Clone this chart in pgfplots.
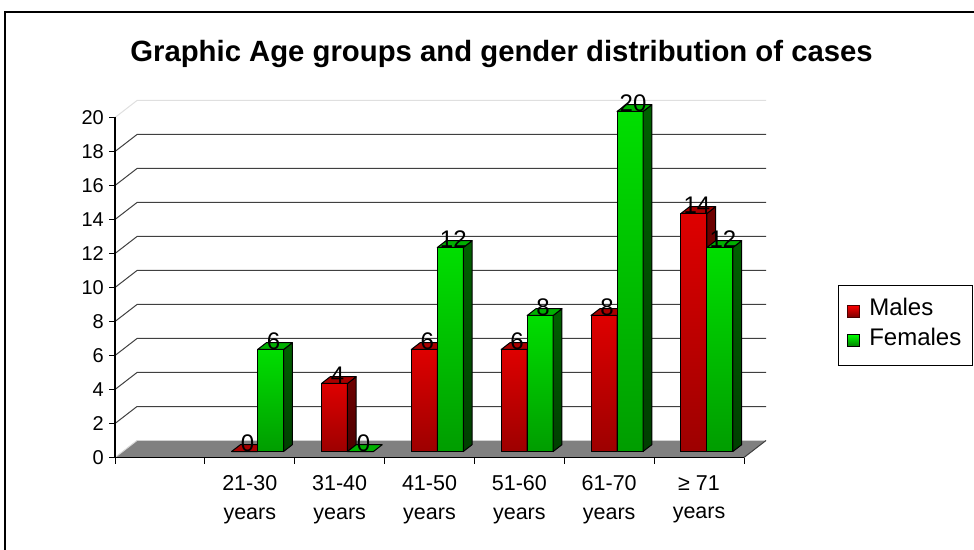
\documentclass[border=0pt]{standalone}
\usepackage{fontspec}
\setmainfont{Liberation Sans}
\usepackage{pgfplots}
\usepackage{pgfplotstable}
\pgfplotsset{compat=1.18}
\definecolor{rtop}{HTML}{FF0000}
\definecolor{rbot}{HTML}{7C0000}
\definecolor{rsidet}{HTML}{800000}
\definecolor{rsideb}{HTML}{3C0000}
\definecolor{rlid}{HTML}{A80000}
\definecolor{gtop}{HTML}{00FF00}
\definecolor{gbot}{HTML}{007C00}
\definecolor{gsidet}{HTML}{007000}
\definecolor{gsideb}{HTML}{002E00}
\definecolor{glid}{HTML}{00B000}
\definecolor{gridc}{HTML}{404040}
\definecolor{floorc}{HTML}{808080}

\pgfdeclareverticalshading{frontred}{100bp}{color(0bp)=(rbot); color(100bp)=(rtop)}
\pgfdeclareverticalshading{frontgreen}{100bp}{color(0bp)=(gbot); color(100bp)=(gtop)}
\pgfdeclareverticalshading{sidered}{100bp}{color(0bp)=(rsideb); color(100bp)=(rsidet)}
\pgfdeclareverticalshading{sidegreen}{100bp}{color(0bp)=(gsideb); color(100bp)=(gsidet)}

\pgfplotstableread{
x   males females
1.5 0     6
2.5 4     0
3.5 6     12
4.5 6     8
5.5 8     20
6.5 14    12
}\agedata

% one 3D bar: front face from x=#1 to x=#1+26pt, height \rawy units (17pt each),
% depth (8.8pt,6.8pt); the mark sits at the top centre of the pair of bars
\newcommand\threedbar[4]{%
  \pgfmathsetlengthmacro\hh{\rawy*17pt}%
  \pgfsetlinewidth{1pt}\pgfsetstrokecolor{black}\pgfsetroundjoin
  \ifdim\hh>0.5pt
    \pgfpathrectanglecorners{\pgfpoint{#1}{0pt-\hh}}{\pgfpoint{#1+26pt}{0pt}}%
    \pgfshadepath{#2}{0}\pgfusepath{discard}%
    \pgfpathrectanglecorners{\pgfpoint{#1}{0pt-\hh}}{\pgfpoint{#1+26pt}{0pt}}%
    \pgfusepath{stroke}%
    \pgfpathmoveto{\pgfpoint{#1+26pt}{0pt}}%
    \pgfpathlineto{\pgfpoint{#1+34.8pt}{6.8pt}}%
    \pgfpathlineto{\pgfpoint{#1+34.8pt}{6.8pt-\hh}}%
    \pgfpathlineto{\pgfpoint{#1+26pt}{0pt-\hh}}%
    \pgfpathclose
    \pgfshadepath{#3}{0}\pgfusepath{discard}%
    \pgfpathmoveto{\pgfpoint{#1+26pt}{0pt}}%
    \pgfpathlineto{\pgfpoint{#1+34.8pt}{6.8pt}}%
    \pgfpathlineto{\pgfpoint{#1+34.8pt}{6.8pt-\hh}}%
    \pgfpathlineto{\pgfpoint{#1+26pt}{0pt-\hh}}%
    \pgfpathclose
    \pgfusepath{stroke}%
  \fi
  \pgfpathmoveto{\pgfpoint{#1}{0pt}}%
  \pgfpathlineto{\pgfpoint{#1+26pt}{0pt}}%
  \pgfpathlineto{\pgfpoint{#1+34.8pt}{6.8pt}}%
  \pgfpathlineto{\pgfpoint{#1+8.8pt}{6.8pt}}%
  \pgfpathclose
  \pgfsetfillcolor{#4}\pgfusepath{fill,stroke}%
}
\pgfdeclareplotmark{malebox}{\threedbar{-26pt}{frontred}{sidered}{rlid}}
\pgfdeclareplotmark{femalebox}{\threedbar{0pt}{frontgreen}{sidegreen}{glid}}

\begin{document}
\begin{tikzpicture}
\useasboundingbox (0,0) rectangle (974pt,549pt);
% ---------- walls, floor, axes ----------
\begin{axis}[
  at={(115pt,91.5pt)}, anchor=south west,
  scale only axis, width=629pt, height=340pt,
  xmin=0, xmax=7, ymin=0, ymax=20,
  axis lines*=left,
  axis on top=true,
  axis line style={black, line width=1.2pt},
  clip=false,
  ytick={0,2,...,20},
  xtick={0,1,...,7},
  xticklabels={,,,,,,,},
  extra x ticks={1.5,2.5,...,6.5},
  extra x tick labels={{21-30\\years},{31-40\\years},{41-50\\years},{51-60\\years},{61-70\\years},{≥ 71\\years}},
  extra x tick style={major tick length=0pt, tick style={draw=none}},
  tick align=outside,
  major tick length=6pt,
  tick style={black, line width=1pt},
  /pgf/number format/assume math mode=true,
  yticklabel style={font=\fontsize{20}{24}\selectfont, inner sep=0pt, xshift=-5pt},
  xticklabel style={font=\fontsize{21.5}{28.5}\selectfont, align=center, inner sep=0pt, yshift=-18pt},
  title={Graphic Age groups and gender distribution of cases},
  title style={at={(0.6145,1.1485)}, anchor=base, inner sep=0pt,
    font=\bfseries\fontsize{29.3}{34}\selectfont},
]
\fill[floorc] (axis cs:0,0) -- (axis cs:7,0) -- ++(22pt,17pt) -- ([xshift=22pt]axis cs:0,1) -- cycle;
\draw[gridc, line width=1pt] (axis cs:7,0) -- ++(22pt,17pt);
\draw[gray!30, line width=1pt] (axis cs:0,0) -- ++(22pt,17pt);
\draw[gridc, line width=1pt] (axis cs:0,2) -- ++(22pt,17pt) -- ([xshift=22pt]axis cs:7,3);
\draw[gridc, line width=1pt] (axis cs:0,4) -- ++(22pt,17pt) -- ([xshift=22pt]axis cs:7,5);
\draw[gridc, line width=1pt] (axis cs:0,6) -- ++(22pt,17pt) -- ([xshift=22pt]axis cs:7,7);
\draw[gridc, line width=1pt] (axis cs:0,8) -- ++(22pt,17pt) -- ([xshift=22pt]axis cs:7,9);
\draw[gridc, line width=1pt] (axis cs:0,10) -- ++(22pt,17pt) -- ([xshift=22pt]axis cs:7,11);
\draw[gridc, line width=1pt] (axis cs:0,12) -- ++(22pt,17pt) -- ([xshift=22pt]axis cs:7,13);
\draw[gridc, line width=1pt] (axis cs:0,14) -- ++(22pt,17pt) -- ([xshift=22pt]axis cs:7,15);
\draw[gridc, line width=1pt] (axis cs:0,16) -- ++(22pt,17pt) -- ([xshift=22pt]axis cs:7,17);
\draw[gridc, line width=1pt] (axis cs:0,18) -- ++(22pt,17pt) -- ([xshift=22pt]axis cs:7,19);
\draw[gray!25, line width=1pt] (axis cs:0,20) -- ++(22pt,17pt) -- ([xshift=22pt]axis cs:7,21);
\end{axis}
% ---------- bars (set back into the floor) ----------
\begin{axis}[
  at={(122.8pt,97.5pt)}, anchor=south west,
  scale only axis, width=629pt, height=340pt,
  xmin=0, xmax=7, ymin=0, ymax=20,
  hide axis, clip=false,
  /pgf/number format/assume math mode=true,
  legend style={at={(1.137,0.4897)}, anchor=north west, draw=black, line width=1pt,
    fill=white, font=\fontsize{24}{28}\selectfont, inner xsep=9pt, inner ysep=11pt,
    row sep=1pt, nodes={text depth=7pt},
    /tikz/every odd column/.append style={column sep=7pt}},
  legend cell align=left,
]
\addplot[ybar, bar width=26pt, bar shift=-13pt, draw=black, line width=1pt,
  fill=rbot, restrict y to domain=0.5:100,
  legend image code/.code={\draw[black!70!red, line width=0.8pt, top color=rtop, bottom color=rbot] (0pt,-6.5pt) rectangle (12pt,5.5pt);}]
  table[x=x, y=males] {\agedata};
\addlegendentry{Males}
\addplot[scatter, only marks, mark=malebox, forget plot,
  visualization depends on={rawy \as \rawy},
  scatter/@pre marker code/.code={\pgfscope},
  scatter/@post marker code/.code={\endpgfscope}]
  table[x=x, y=males] {\agedata};
\addplot[ybar, bar width=26pt, bar shift=13pt, draw=black, line width=1pt,
  fill=gbot, restrict y to domain=0.5:100,
  legend image code/.code={\draw[black, line width=0.8pt, top color=gtop, bottom color=gbot] (0pt,-6.5pt) rectangle (12pt,5.5pt);}]
  table[x=x, y=females] {\agedata};
\addlegendentry{Females}
\addplot[scatter, only marks, mark=femalebox, forget plot,
  visualization depends on={rawy \as \rawy},
  scatter/@pre marker code/.code={\pgfscope},
  scatter/@post marker code/.code={\endpgfscope}]
  table[x=x, y=females] {\agedata};
% value labels
\addplot[draw=none, forget plot, nodes near coords,
  every node near coord/.append style={anchor=base, xshift=-10pt, inner sep=0pt,
    font=\fontsize{24}{28}\selectfont, text=black}]
  table[x=x, y=males] {\agedata};
\addplot[draw=none, forget plot, nodes near coords,
  every node near coord/.append style={anchor=base, xshift=16pt, inner sep=0pt,
    font=\fontsize{24}{28}\selectfont, text=black}]
  table[x=x, y=females] {\agedata};
\end{axis}
% outer frame (right and bottom edges lie outside the picture)
\draw[black, line width=1.2pt] (5pt,-20pt) -- (5pt,537pt) -- (1000pt,537pt);
\end{tikzpicture}
\end{document}
